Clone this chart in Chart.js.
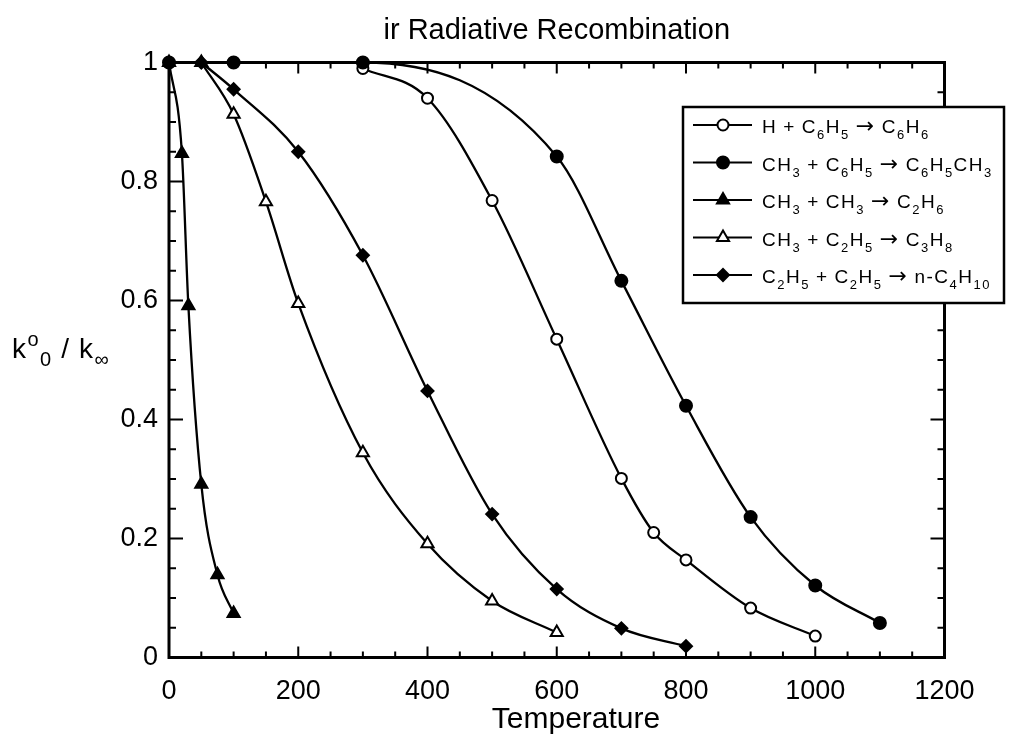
<!DOCTYPE html>
<html>
<head>
<meta charset="utf-8">
<script src="https://cdn.jsdelivr.net/npm/chart.js@4.4.1/dist/chart.umd.min.js"></script>
<style>
  html, body { margin: 0; padding: 0; background: #fff; }
  #wrap { width: 1019px; height: 747px; }
</style>
</head>
<body>
<div id="wrap"><canvas id="grafico" width="1019" height="747"></canvas></div>
<script>
// Datos (T en K, k0/kinf)
const tH = [300, 400, 500, 600, 700, 750, 800, 900, 1000];
const kH = [0.99, 0.94, 0.768, 0.535, 0.301, 0.21, 0.164, 0.083, 0.036];
const tCH3Ph = [0, 100, 300, 600, 700, 800, 900, 1000, 1100];
const kCH3Ph = [1, 1, 1, 0.842, 0.633, 0.423, 0.236, 0.121, 0.058];
const tCH3CH3 = [0, 20, 30, 50, 75, 100];
const kCH3CH3 = [1, 0.847, 0.591, 0.291, 0.139, 0.074];
const tCH3Et = [50, 100, 150, 200, 300, 400, 500, 600];
const kCH3Et = [1, 0.913, 0.766, 0.595, 0.344, 0.191, 0.095, 0.042];
const tEtEt = [50, 100, 200, 300, 400, 500, 600, 700, 800];
const kEtEt = [1, 0.955, 0.85, 0.676, 0.448, 0.241, 0.115, 0.049, 0.019];

const nombres = [
  'H + C_6H_5 → C_6H_6',
  'CH_3 + C_6H_5 → C_6H_5CH_3',
  'CH_3 + CH_3 → C_2H_6',
  'CH_3 + C_2H_5 → C_3H_8',
  'C_2H_5 + C_2H_5 → n-C_4H_{10}'
];
const titulo = 'ir Radiative Recombination';
const tituloX = 'Temperature';
const tituloY = 'k^o_0 / k_∞';

const FUENTE = '"Liberation Sans", Arial, Helvetica, sans-serif';

const puntos = (xs, ys) => xs.map((x, i) => ({ x: x, y: ys[i] }));

// estilos de marcador por serie
const marcadores = [
  { pointStyle: 'circle', radius: 5.5, fill: '#fff' },
  { pointStyle: 'circle', radius: 6, fill: '#000' },
  { pointStyle: 'triangle', radius: 7, fill: '#000' },
  { pointStyle: 'triangle', radius: 7, fill: '#fff' },
  { pointStyle: 'rectRot', radius: 6, fill: '#000' }
];
const series = [
  puntos(tH, kH),
  puntos(tCH3Ph, kCH3Ph),
  puntos(tCH3CH3, kCH3CH3),
  puntos(tCH3Et, kCH3Et),
  puntos(tEtEt, kEtEt)
];
const ordenes = [3, 2, 1, 1, 0];

// Texto con subíndices (_x, _{xx}) y superíndices (^x)
function textoRico(ctx, str, x, y, o) {
  const partes = [];
  let i = 0;
  while (i < str.length) {
    const c = str[i];
    if ((c === '_' || c === '^') && i + 1 < str.length) {
      const modo = c === '_' ? 'sub' : 'sup';
      i++;
      if (str[i] === '{') {
        const j = str.indexOf('}', i);
        partes.push({ t: str.slice(i + 1, j), m: modo });
        i = j + 1;
      } else {
        partes.push({ t: str[i], m: modo });
        i++;
      }
      continue;
    }
    partes.push({ t: c, m: 'n' });
    i++;
  }
  ctx.textAlign = 'left';
  ctx.textBaseline = 'alphabetic';
  for (const p of partes) {
    const size = p.m === 'n' ? o.size : (p.m === 'sub' ? o.sub : o.sup);
    const dy = p.m === 'sub' ? o.subDy : (p.m === 'sup' ? -o.supDy : 0);
    for (const ch of p.t) {
      // la flecha del original es larga
      ctx.font = ch === '→' ? (size + 3) + 'px "DejaVu Sans", sans-serif' : size + 'px ' + FUENTE;
      ctx.fillText(ch, x, y + dy);
      x += ctx.measureText(ch).width + (ch === ' ' ? o.gap * 0.5 : o.gap);
    }
  }
  return x;
}

// Marco con marcas hacia dentro en los cuatro lados
const marco = {
  id: 'marco',
  beforeDatasetsDraw(chart) {
    const { ctx, chartArea: a, scales } = chart;
    const sx = scales.x, sy = scales.y;
    ctx.save();
    ctx.strokeStyle = '#000';
    ctx.lineWidth = 2;
    ctx.beginPath();
    for (let v = 0; v <= 1200; v += 50) {
      const px = sx.getPixelForValue(v);
      const len = v % 200 === 0 ? 11 : 6;
      ctx.moveTo(px, a.bottom); ctx.lineTo(px, a.bottom - len);
      ctx.moveTo(px, a.top); ctx.lineTo(px, a.top + len);
    }
    for (let k = 0; k <= 20; k++) {
      const py = sy.getPixelForValue(k * 0.05);
      const len = k % 4 === 0 ? 14 : 7;
      ctx.moveTo(a.left, py); ctx.lineTo(a.left + len, py);
      ctx.moveTo(a.right, py); ctx.lineTo(a.right - len, py);
    }
    ctx.stroke();
    ctx.lineWidth = 3;
    ctx.strokeRect(a.left, a.top, a.right - a.left, a.bottom - a.top);
    ctx.restore();
  }
};

// Leyenda propia (para poder poner subíndices) y títulos de los ejes
const leyenda = {
  id: 'leyenda',
  afterDraw(chart) {
    const ctx = chart.ctx;
    ctx.save();
    const caja = { l: 683, t: 107, r: 1004, b: 303 };
    ctx.fillStyle = '#fff';
    ctx.fillRect(caja.l, caja.t, caja.r - caja.l, caja.b - caja.t);
    ctx.strokeStyle = '#000';
    ctx.lineWidth = 2.5;
    ctx.strokeRect(caja.l, caja.t, caja.r - caja.l, caja.b - caja.t);
    nombres.forEach((n, i) => {
      const y = 125 + i * 37.5;
      ctx.lineWidth = 2;
      ctx.strokeStyle = '#000';
      ctx.beginPath();
      ctx.moveTo(693, y); ctx.lineTo(752, y);
      ctx.stroke();
      const m = marcadores[i];
      ctx.fillStyle = m.fill;
      Chart.helpers.drawPoint(ctx, { pointStyle: m.pointStyle, radius: m.radius, rotation: 0, borderWidth: 2 }, 723, y);
      ctx.fillStyle = '#000';
      textoRico(ctx, n, 762, y + 8, { size: 19, sub: 13, sup: 13, subDy: 6, supDy: 8, gap: 1.5 });
    });
    ctx.fillStyle = '#000';
    textoRico(ctx, tituloY, 12, 358, { size: 28, sub: 20, sup: 20, subDy: 8, supDy: 12, gap: 1.5 });
    // título del eje X
    ctx.font = '30px ' + FUENTE;
    ctx.textAlign = 'center';
    ctx.textBaseline = 'middle';
    ctx.fillText(tituloX, 576, 720);
    ctx.restore();
  }
};

const ctx = document.getElementById('grafico').getContext('2d');
const grafico = new Chart(ctx, {
  type: 'line',
  data: {
    datasets: series.map((d, i) => ({
      label: nombres[i],
      data: d,
      borderColor: '#000',
      borderWidth: 2.3,
      fill: false,
      cubicInterpolationMode: 'monotone',
      pointStyle: marcadores[i].pointStyle,
      pointRadius: marcadores[i].radius,
      pointBackgroundColor: marcadores[i].fill,
      pointBorderColor: '#000',
      pointBorderWidth: 2,
      clip: false,
      order: ordenes[i]
    }))
  },
  options: {
    responsive: false,
    animation: false,
    devicePixelRatio: 1,
    layout: { padding: { left: 0, right: 74.5, top: 0, bottom: 0 } },
    plugins: {
      legend: { display: false },
      tooltip: { enabled: false },
      title: {
        display: true,
        text: titulo,
        fullSize: false,
        color: '#000',
        font: { family: FUENTE, size: 29, weight: 'normal' },
        padding: { top: 14, bottom: 13.7 }
      }
    },
    scales: {
      x: {
        type: 'linear',
        min: 0,
        max: 1200,
        grid: { display: false, drawTicks: false },
        border: { display: false },
        ticks: {
          stepSize: 200,
          color: '#000',
          padding: 18,
          maxRotation: 0,
          font: { family: FUENTE, size: 27 },
          callback: v => String(v)
        },
        afterFit(s) { s.height = 89.5; }
      },
      y: {
        min: 0,
        max: 1,
        grid: { display: false, drawTicks: false },
        border: { display: false },
        ticks: {
          stepSize: 0.2,
          color: '#000',
          padding: 11,
          font: { family: FUENTE, size: 27 },
          callback: v => String(+v.toFixed(2))
        },
        afterFit(s) { s.width = 169; }
      }
    }
  },
  plugins: [marco, leyenda]
});
</script>
</body>
</html>
